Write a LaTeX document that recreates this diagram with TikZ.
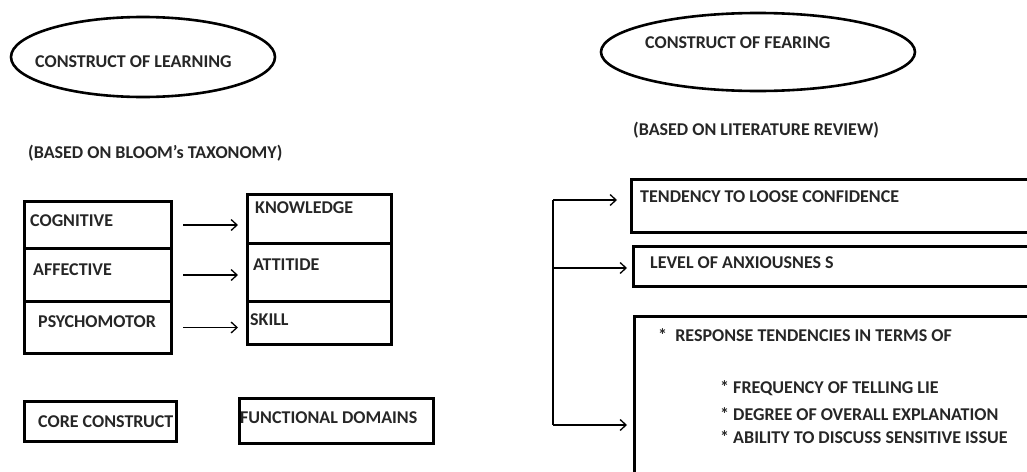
\documentclass[tikz,border=0pt]{standalone}
\usepackage{fontspec}
\setmainfont{Carlito}
\usetikzlibrary{arrows.meta,shapes.geometric}
\tikzset{
  txt/.style={anchor=west,inner sep=0pt,font=\fontsize{18}{21}\selectfont\bfseries,text=black!85},
  cell/.style={draw,line width=3pt,rectangle,inner sep=0pt,anchor=north west},
  oval/.style={draw,line width=2.6pt,ellipse,inner sep=0pt},
  arr/.style={line width=1.3pt,-{Straight Barb[length=6pt,width=11pt,line width=1.3pt]}},
  trunk/.style={line width=1.3pt}
}
\begin{document}
\begin{tikzpicture}[x=1pt,y=-1pt]
\useasboundingbox (0,0) rectangle (1027,471);
\clip (0,0) rectangle (1027,471);
% ellipses
\node[oval,minimum width=264pt,minimum height=80pt] (ell1) at (143,57) {};
\node[oval,minimum width=314pt,minimum height=78pt] (ell2) at (758,52) {};
\node[txt] (t_learn) at (35,62) {CONSTRUCT OF LEARNING};
\node[txt] (t_fear) at (645,43) {CONSTRUCT OF FEARING};
\node[txt] (t_bloom) at (28,153) {(BASED ON BLOOM's TAXONOMY)};
\node[txt] (t_lit) at (633,130) {(BASED ON LITERATURE REVIEW)};
% left column
\node[cell,minimum width=147pt,minimum height=47pt] (cog) at (23,200) {};
\node[cell,minimum width=147pt,minimum height=53pt] (aff) at (23,247) {};
\node[cell,minimum width=147pt,minimum height=52pt] (psy) at (23,300) {};
\node[txt] (t_cog) at (30,221) {COGNITIVE};
\node[txt] (t_aff) at (33,270) {AFFECTIVE};
\node[txt] (t_psy) at (38,322) {PSYCHOMOTOR};
% right column
\node[cell,minimum width=144pt,minimum height=49pt] (know) at (246,193) {};
\node[cell,minimum width=144pt,minimum height=58pt] (att) at (246,242) {};
\node[cell,minimum width=144pt,minimum height=43pt] (skill) at (246,300) {};
\node[txt] (t_know) at (255,208) {KNOWLEDGE};
\node[txt] (t_att) at (253,265) {ATTITIDE};
\node[txt] (t_skill) at (250,320) {SKILL};
% arrows left
\draw[arr] ([xshift=10pt]cog.east) -- ([xshift=-8pt]know.west |- cog.east);
\draw[arr] ([xshift=10pt]aff.east) -- ([xshift=-8pt]att.west |- aff.east);
\draw[arr] ([xshift=10pt]psy.east) -- ([xshift=-8pt]skill.west |- psy.east);
% legend boxes
\node[cell,minimum width=152pt,minimum height=40pt] (core) at (23,400) {};
\node[cell,minimum width=194pt,minimum height=45pt] (func) at (238,397) {};
\node[txt] (t_core) at (38,422) {CORE CONSTRUCT};
\node[txt] (t_func) at (240,418) {FUNCTIONAL DOMAINS};
% right boxes
\node[cell,minimum width=420pt,minimum height=53pt] (conf) at (630,178) {};
\node[cell,minimum width=420pt,minimum height=40pt] (anx) at (632,245) {};
\node[cell,minimum width=420pt,minimum height=180pt] (resp) at (633,315) {};
\node[txt] (t_conf) at (640,197) {TENDENCY TO LOOSE CONFIDENCE};
\node[txt] (t_anx) at (650,263) {LEVEL OF ANXIOUSNES S};
\node[txt] (t_resp) at (658,335) {*\ \ RESPONSE TENDENCIES IN TERMS OF};
\node[txt] (t_freq) at (720,388) {* FREQUENCY OF TELLING LIE};
\node[txt] (t_deg) at (720,414) {* DEGREE OF OVERALL EXPLANATION};
\node[txt] (t_abil) at (720,437) {* ABILITY TO DISCUSS SENSITIVE ISSUE};
% right connectors
\coordinate (j1) at (553,200);
\coordinate (j2) at (553,268);
\coordinate (j3) at (553,425);
\draw[trunk] (j1) -- (j3);
\draw[arr] (j1) -- ([xshift=-13pt]j1 -| conf.west);
\draw[arr] (j2) -- ([xshift=-5pt]j2 -| anx.west);
\draw[arr] (j3) -- ([xshift=-6pt]j3 -| resp.west);
\end{tikzpicture}
\end{document}
